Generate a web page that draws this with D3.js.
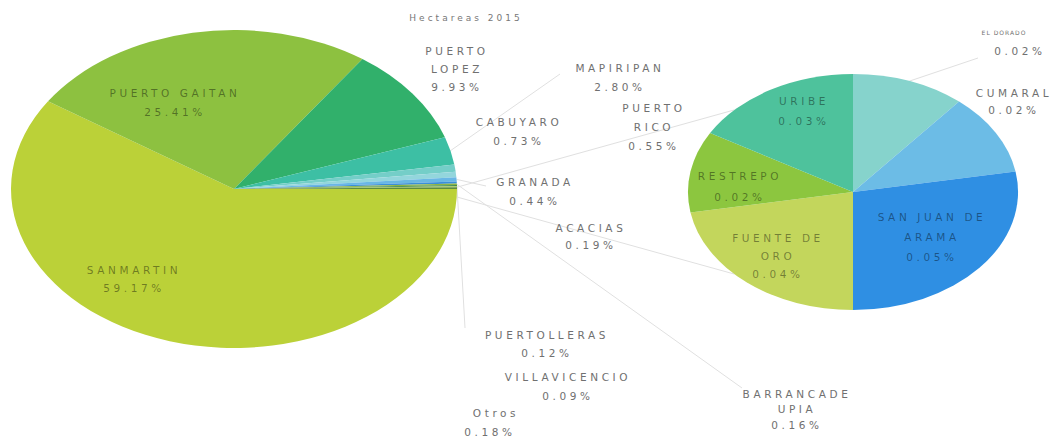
<!DOCTYPE html>
<html>
<head>
<meta charset="utf-8">
<script src="https://cdn.jsdelivr.net/npm/d3@7"></script>
<style>
  html, body { margin: 0; padding: 0; background: #fff; }
  svg { display: block; }
  text { font-family: "DejaVu Sans", "Lato", sans-serif; }
</style>
</head>
<body>
<svg id="chart" width="1060" height="442"></svg>
<script>
// ---- Data: main pie (municipios) ----
const mainNames  = ["SAN MARTIN", "PUERTO GAITAN", "PUERTO LOPEZ", "MAPIRIPAN", "CABUYARO",
                    "PUERTO RICO", "GRANADA", "ACACIAS", "BARRANCA DE UPIA", "PUERTO LLERAS",
                    "VILLAVICENCIO", "Otros"];
const mainLines  = [["SANMARTIN"], ["PUERTO GAITAN"], ["PUERTO", "LOPEZ"], ["MAPIRIPAN"], ["CABUYARO"],
                    ["PUERTO", "RICO"], ["GRANADA"], ["ACACIAS"], ["BARRANCADE", "UPIA"], ["PUERTOLLERAS"],
                    ["VILLAVICENCIO"], ["Otros"]];
const mainValues = [59.17, 25.41, 9.93, 2.80, 0.73, 0.55, 0.44, 0.19, 0.16, 0.12, 0.09, 0.18];

// ---- Data: secondary pie (breakdown of "Otros") ----
const otrosNames  = ["FUENTE DE ORO", "RESTREPO", "URIBE", "EL DORADO", "CUMARAL", "SAN JUAN DE ARAMA"];
const otrosLines  = [["FUENTE DE", "ORO"], ["RESTREPO"], ["URIBE"], ["EL DORADO"], ["CUMARAL"], ["SAN JUAN DE", "ARAMA"]];
const otrosValues = [0.04, 0.02, 0.03, 0.02, 0.02, 0.05];

const titleText = "Hectareas 2015";

// ---- Styles ----
const mainColors  = ["#BBD138", "#8DC140", "#31B06B", "#3DBFA4", "#74CEC8", "#93D6DC",
                     "#69B7E5", "#3B8FDA", "#8DB443", "#3F8A4F", "#A7C64E", "#5E8C3E"];
const otrosColors = ["#C3D65C", "#8CC63F", "#4EC29C", "#86D3CC", "#6CBCE6", "#2F8FE3"];

const W = 1060, H = 442;
const M = { cx: 234, cy: 189, rx: 223, ry: 159 };   // main ellipse
const S = { cx: 853, cy: 192, rx: 165, ry: 118 };   // secondary ellipse

// label layout: centre x, first-line y, line height; inside = drawn on the slice
const mainLayout = {
  "SAN MARTIN":       { x: 132, y: 270, lh: 18, inside: true },
  "PUERTO GAITAN":    { x: 173, y: 93,  lh: 19, inside: true },
  "PUERTO LOPEZ":     { x: 455, y: 51,  lh: 18 },
  "MAPIRIPAN":        { x: 618, y: 68,  lh: 19 },
  "CABUYARO":         { x: 517, y: 122, lh: 19 },
  "PUERTO RICO":      { x: 652, y: 108, lh: 19 },
  "GRANADA":          { x: 533, y: 182, lh: 19 },
  "ACACIAS":          { x: 589, y: 228, lh: 17 },
  "BARRANCA DE UPIA": { x: 795, y: 394, lh: 15.5 },
  "PUERTO LLERAS":    { x: 545, y: 335, lh: 18 },
  "VILLAVICENCIO":    { x: 566, y: 377, lh: 19 },
  "Otros":            { x: 494, y: 413, lh: 19, xs: [494, 488] }
};
const otrosLayout = {
  "FUENTE DE ORO":     { x: 776, y: 238, lh: 18, inside: true },
  "RESTREPO":          { x: 738, y: 176, lh: 21, inside: true },
  "URIBE":             { x: 802, y: 101, lh: 20, inside: true },
  "EL DORADO":         { x: 1002, y: 33, lh: 18, xs: [1002, 1018], small: true },
  "CUMARAL":           { x: 1012, y: 93, lh: 17 },
  "SAN JUAN DE ARAMA": { x: 930, y: 217, lh: 20, inside: true }
};
// where leader lines end (they start at the slice edge)
const mainLeaders  = { "MAPIRIPAN": [560, 74], "GRANADA": [486, 186],
                       "PUERTO LLERAS": [465, 328], "BARRANCA DE UPIA": [742, 388] };
const otrosLeaders = { "EL DORADO": [978, 58] };

const svg = d3.select("#chart");
const fmt = d3.format(".2f");
const arcUnit = d3.arc().innerRadius(0).outerRadius(1);
const edge = (E, a) => [E.cx + E.rx * Math.sin(a), E.cy - E.ry * Math.cos(a)];

const pieMain = d3.pie().sort(null).value(d => d)
  .startAngle(Math.PI / 2).endAngle(Math.PI / 2 + 2 * Math.PI);
const pieOtros = d3.pie().sort(null).value(d => d)
  .startAngle(Math.PI).endAngle(3 * Math.PI);

const mainArcs = pieMain(mainValues);
const otrosArcs = pieOtros(otrosValues);

// ---- connector lines and leaders (behind the pies) ----
const gLines = svg.append("g").attr("stroke", "#e0e0e0").attr("stroke-width", 1).attr("fill", "none");
const otrosArc = mainArcs[mainArcs.length - 1];
const c1 = edge(M, otrosArc.startAngle), c2 = edge(M, otrosArc.endAngle + 0.05);
const t1 = edge(S, 1.745 * Math.PI), t2 = edge(S, 1.255 * Math.PI);
gLines.append("line").attr("x1", c1[0]).attr("y1", c1[1]).attr("x2", t1[0]).attr("y2", t1[1]);
gLines.append("line").attr("x1", c2[0]).attr("y1", c2[1]).attr("x2", t2[0]).attr("y2", t2[1]);

mainArcs.forEach((d, i) => {
  const end = mainLeaders[mainNames[i]];
  if (!end) return;
  const p = edge(M, (d.startAngle + d.endAngle) / 2);
  gLines.append("line").attr("x1", p[0]).attr("y1", p[1]).attr("x2", end[0]).attr("y2", end[1]);
});
otrosArcs.forEach((d, i) => {
  const end = otrosLeaders[otrosNames[i]];
  if (!end) return;
  const p = edge(S, (d.startAngle + d.endAngle) / 2);
  gLines.append("line").attr("x1", p[0]).attr("y1", p[1]).attr("x2", end[0]).attr("y2", end[1]);
});

// ---- the two elliptical pies ----
svg.append("g")
  .attr("transform", `translate(${M.cx},${M.cy}) scale(${M.rx},${M.ry})`)
  .selectAll("path").data(mainArcs).join("path")
  .attr("d", arcUnit).attr("fill", (d, i) => mainColors[i]);

svg.append("g")
  .attr("transform", `translate(${S.cx},${S.cy}) scale(${S.rx},${S.ry})`)
  .selectAll("path").data(otrosArcs).join("path")
  .attr("d", arcUnit).attr("fill", (d, i) => otrosColors[i]);

// ---- labels ----
function drawLabel(lines, value, L) {
  const all = lines.concat([fmt(value) + "%"]);
  const g = svg.append("g");
  all.forEach((t, k) => {
    const x = L.xs ? L.xs[Math.min(k, L.xs.length - 1)] : L.x;
    const small = L.small && k < lines.length;
    g.append("text")
      .attr("x", x + 2).attr("y", L.y + k * L.lh)
      .attr("dy", "0.36em")
      .attr("text-anchor", "middle")
      .attr("font-size", small ? 6 : 10.5)
      .attr("letter-spacing", small ? 1 : 3.6)
      .attr("fill", L.inside ? "#000" : "#707070")
      .attr("fill-opacity", L.inside ? 0.42 : 1)
      .text(t);
  });
}
mainArcs.forEach((d, i) => drawLabel(mainLines[i], mainValues[i], mainLayout[mainNames[i]]));
otrosArcs.forEach((d, i) => drawLabel(otrosLines[i], otrosValues[i], otrosLayout[otrosNames[i]]));

svg.append("text")
  .attr("x", 466).attr("y", 18).attr("dy", "0.36em")
  .attr("text-anchor", "middle")
  .attr("font-size", 9).attr("letter-spacing", 3)
  .attr("fill", "#777")
  .text(titleText);
</script>
</body>
</html>
